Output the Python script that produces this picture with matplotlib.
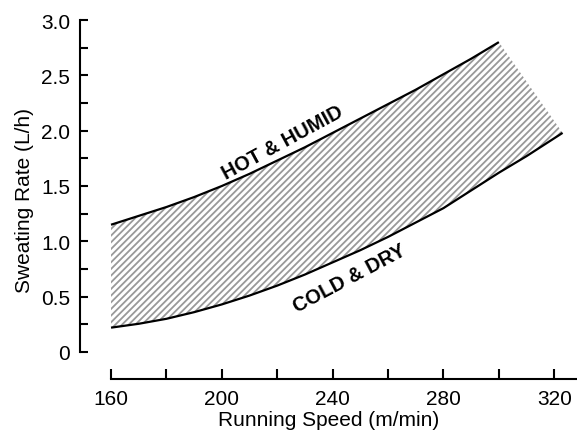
import numpy as np
import matplotlib
matplotlib.use("Agg")
import matplotlib.pyplot as plt

# upper boundary (hot & humid) and lower boundary (cold & dry)
hot_x = [160, 170, 180, 190, 200, 210, 220, 230, 240, 250, 260, 270, 280, 290, 300]
hot_y = [1.15, 1.23, 1.31, 1.40, 1.50, 1.61, 1.73, 1.85, 1.98, 2.11, 2.24, 2.37, 2.51, 2.65, 2.80]
cold_x = [160, 170, 180, 190, 200, 210, 220, 230, 240, 250, 260, 270, 280, 290, 300, 310, 323]
cold_y = [0.22, 0.255, 0.30, 0.36, 0.43, 0.51, 0.60, 0.70, 0.81, 0.92, 1.04, 1.17, 1.30, 1.46, 1.62, 1.77, 1.98]

x_ticks = [160, 180, 200, 220, 240, 260, 280, 300, 320]
x_labels = ["160", "", "200", "", "240", "", "280", "", "320"]
y_ticks = [0, 0.25, 0.5, 0.75, 1.0, 1.25, 1.5, 1.75, 2.0, 2.25, 2.5, 2.75, 3.0]
y_labels = ["0", "", "0.5", "", "1.0", "", "1.5", "", "2.0", "", "2.5", "", "3.0"]

plt.rcParams["font.family"] = ["Liberation Sans", "DejaVu Sans"]
plt.rcParams["hatch.linewidth"] = 1.3

fig = plt.figure(figsize=(5.77, 4.35), dpi=100)
ax = fig.add_axes([80 / 577, 55 / 435, 497 / 577, 359 / 435])

# hatched band between the two curves
poly_x = hot_x + cold_x[::-1]
poly_y = hot_y + cold_y[::-1]
ax.fill(poly_x, poly_y, facecolor="none", edgecolor="#999999", linewidth=0, hatch="/////")

ax.plot(hot_x, hot_y, color="black", lw=1.6, solid_capstyle="butt")
ax.plot(cold_x, cold_y, color="black", lw=1.6, solid_capstyle="butt")

ax.text(222, 1.90, "HOT & HUMID", rotation=28.5, ha="center", va="center",
        fontsize=14.5, fontweight="bold", rotation_mode="anchor")
ax.text(246, 0.67, "COLD & DRY", rotation=28, ha="center", va="center",
        fontsize=14.5, fontweight="bold", rotation_mode="anchor")

ax.set_xlim(148.8, 328.2)
ax.set_ylim(-0.244, 3.0)
ax.spines["top"].set_visible(False)
ax.spines["right"].set_visible(False)
ax.spines["left"].set_bounds(0, 3.0)
ax.spines["bottom"].set_bounds(160, 328.2)
for s in ["left", "bottom"]:
    ax.spines[s].set_linewidth(1.5)

ax.set_xticks(x_ticks)
ax.set_xticklabels(x_labels)
ax.set_yticks(y_ticks)
ax.set_yticklabels(y_labels)
ax.tick_params(axis="x", direction="in", length=7.5, width=1.5, pad=7, labelsize=15)
ax.tick_params(axis="y", direction="in", length=6, width=1.5, pad=7, labelsize=15)

ax.set_xlabel("Running Speed (m/min)", fontsize=15, labelpad=2)
ax.set_ylabel("Sweating Rate (L/h)", fontsize=15, labelpad=5)

fig.savefig("out.png", dpi=100)
